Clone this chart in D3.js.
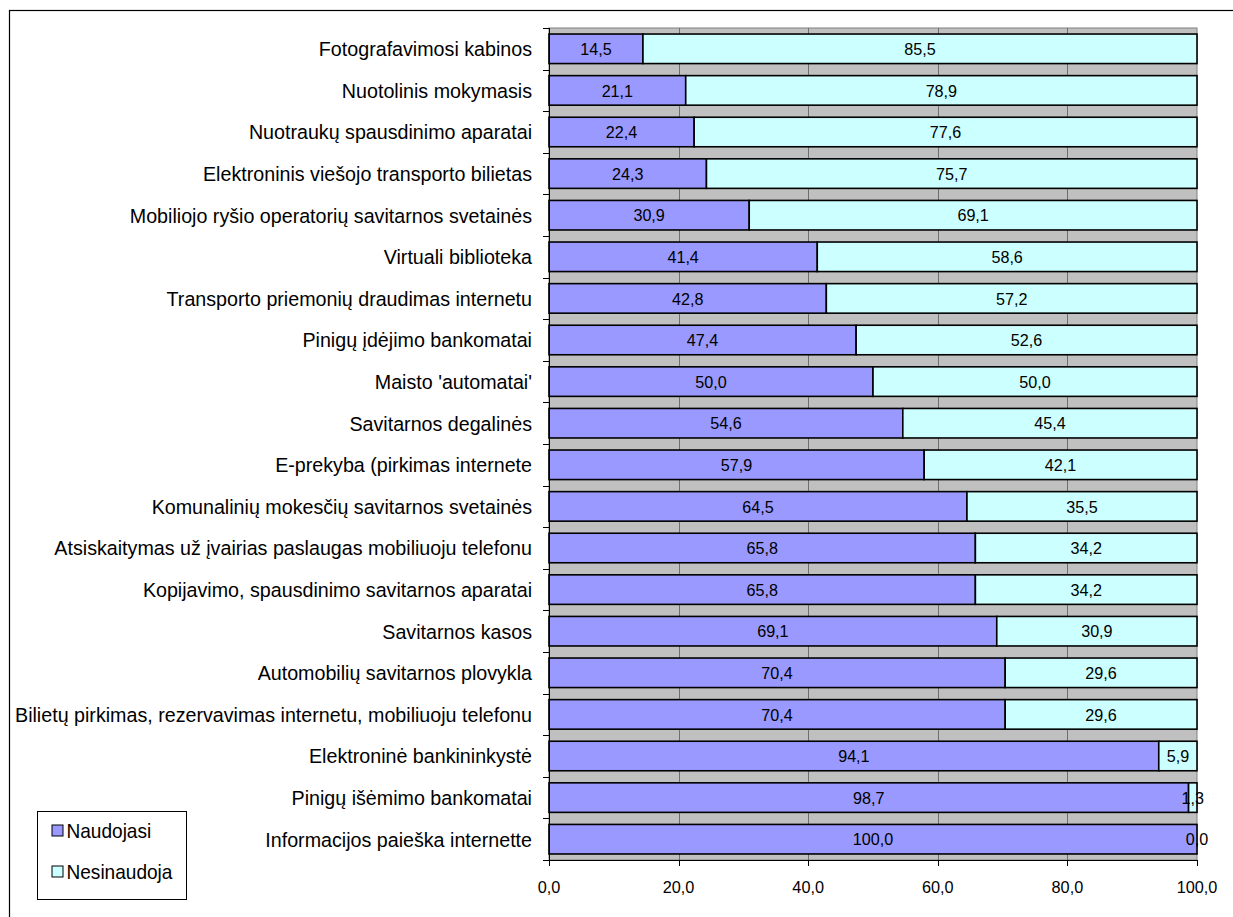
<!DOCTYPE html>
<html>
<head>
<meta charset="utf-8">
<script src="https://cdn.jsdelivr.net/npm/d3@7"></script>
<style>
  html, body { margin: 0; padding: 0; background: #fff; }
  svg { display: block; font-family: "Liberation Sans", Arial, sans-serif; }
</style>
</head>
<body>
<svg id="chart" width="1233" height="917"></svg>
<script>
// Self-service usage survey: share of respondents (%)
const categories = [
  "Fotografavimosi kabinos",
  "Nuotolinis mokymasis",
  "Nuotraukų spausdinimo aparatai",
  "Elektroninis viešojo transporto bilietas",
  "Mobiliojo ryšio operatorių savitarnos svetainės",
  "Virtuali biblioteka",
  "Transporto priemonių draudimas internetu",
  "Pinigų įdėjimo bankomatai",
  "Maisto 'automatai'",
  "Savitarnos degalinės",
  "E-prekyba (pirkimas internete",
  "Komunalinių mokesčių savitarnos svetainės",
  "Atsiskaitymas už įvairias paslaugas mobiliuoju telefonu",
  "Kopijavimo, spausdinimo savitarnos aparatai",
  "Savitarnos kasos",
  "Automobilių savitarnos plovykla",
  "Bilietų pirkimas, rezervavimas internetu, mobiliuoju telefonu",
  "Elektroninė bankininkystė",
  "Pinigų išėmimo bankomatai",
  "Informacijos paieška internette"
];
const naudojasi = [14.5, 21.1, 22.4, 24.3, 30.9, 41.4, 42.8, 47.4, 50.0, 54.6,
                   57.9, 64.5, 65.8, 65.8, 69.1, 70.4, 70.4, 94.1, 98.7, 100.0];
const nesinaudoja = [85.5, 78.9, 77.6, 75.7, 69.1, 58.6, 57.2, 52.6, 50.0, 45.4,
                     42.1, 35.5, 34.2, 34.2, 30.9, 29.6, 29.6, 5.9, 1.3, 0.0];
const seriesNames = ["Naudojasi", "Nesinaudoja"];
const xTicks = [0, 20, 40, 60, 80, 100];

const colors = { "Naudojasi": "#9999ff", "Nesinaudoja": "#ccffff" };
const fmt = v => v.toFixed(1).replace(".", ",");

const svg = d3.select("#chart");

// outer chart frame (runs past the right and bottom edges)
svg.append("rect")
  .attr("x", 9.5).attr("y", 10.5)
  .attr("width", 1240).attr("height", 920)
  .attr("fill", "none").attr("stroke", "#000").attr("stroke-width", 1.2);

const plot = { left: 549, right: 1197, top: 28, bottom: 860 };

const x = d3.scaleLinear().domain([0, 100]).range([plot.left, plot.right]);
const y = d3.scaleBand().domain(categories).range([plot.top, plot.bottom]).paddingInner(0.29).paddingOuter(0.145);
const yBand = d3.scaleBand().domain(categories).range([plot.top, plot.bottom]);

// slightly condensed text, as the chart's font renders
function condensed(sel, sx) {
  return sel.attr("transform", d => `scale(${sx},1)`);
}

// plot background
svg.append("rect")
  .attr("x", plot.left).attr("y", plot.top)
  .attr("width", plot.right - plot.left).attr("height", plot.bottom - plot.top)
  .attr("fill", "#c0c0c0").attr("stroke", "#808080").attr("stroke-width", 1);

// vertical gridlines
svg.append("g").selectAll("line")
  .data(xTicks.filter(t => t > 0 && t < 100))
  .join("line")
  .attr("x1", d => Math.round(x(d)) + 0.5).attr("x2", d => Math.round(x(d)) + 0.5)
  .attr("y1", plot.top).attr("y2", plot.bottom)
  .attr("stroke", "#6e6e6e").attr("stroke-width", 1);

// stacked bars
const rows = categories.map((c, i) => ({ cat: c, Naudojasi: naudojasi[i], Nesinaudoja: nesinaudoja[i] }));
const stacked = d3.stack().keys(seriesNames)(rows);

const barG = svg.append("g");
stacked.forEach(layer => {
  barG.append("g").selectAll("rect")
    .data(layer)
    .join("rect")
    .attr("x", d => x(d[0]))
    .attr("y", d => y(d.data.cat))
    .attr("width", d => x(d[1]) - x(d[0]))
    .attr("height", y.bandwidth())
    .attr("fill", colors[layer.key])
    .attr("stroke", "#000")
    .attr("stroke-width", 1.6);
});

// value labels centred in each segment
const labG = svg.append("g");
const vScale = 0.95;
stacked.forEach(layer => {
  labG.append("g").selectAll("g")
    .data(layer)
    .join("g")
    .attr("transform", d => `translate(${x((d[0] + d[1]) / 2)},${y(d.data.cat) + y.bandwidth() / 2}) scale(${vScale},1)`)
    .append("text")
    .attr("dy", "0.36em")
    .attr("text-anchor", "middle")
    .attr("font-size", 17)
    .attr("fill", "#000")
    .text(d => fmt(d.data[layer.key]));
});

// left axis
const yAxis = svg.append("g").attr("transform", `translate(${plot.left},0)`);
yAxis.append("line")
  .attr("x1", 0.5).attr("x2", 0.5).attr("y1", plot.top).attr("y2", plot.bottom)
  .attr("stroke", "#000");
const bounds = categories.map(c => yBand(c)).concat([plot.bottom]);
yAxis.selectAll("line.tick")
  .data(bounds)
  .join("line").attr("class", "tick")
  .attr("x1", -6).attr("x2", 0.5)
  .attr("y1", d => Math.round(d) + 0.5).attr("y2", d => Math.round(d) + 0.5)
  .attr("stroke", "#000");
const cScale = 0.96;
yAxis.selectAll("g.lab")
  .data(categories)
  .join("g").attr("class", "lab")
  .attr("transform", d => `translate(-17,${yBand(d) + yBand.bandwidth() / 2}) scale(${cScale},1)`)
  .append("text")
  .attr("dy", "0.36em")
  .attr("text-anchor", "end")
  .attr("font-size", 20.5)
  .text(d => d);

// bottom axis
const xAxis = svg.append("g").attr("transform", `translate(0,${plot.bottom})`);
xAxis.append("line")
  .attr("x1", plot.left).attr("x2", plot.right).attr("y1", 0.5).attr("y2", 0.5)
  .attr("stroke", "#000");
xAxis.selectAll("line.tick")
  .data(xTicks)
  .join("line").attr("class", "tick")
  .attr("x1", d => Math.round(x(d)) + 0.5).attr("x2", d => Math.round(x(d)) + 0.5)
  .attr("y1", 0).attr("y2", 6)
  .attr("stroke", "#000");
xAxis.selectAll("text")
  .data(xTicks)
  .join("text")
  .attr("x", d => x(d))
  .attr("y", 27.5)
  .attr("dy", "0.36em")
  .attr("text-anchor", "middle")
  .attr("font-size", 16.3)
  .text(d => fmt(d));

// legend
const legend = svg.append("g").attr("transform", "translate(37.5,811.5)");
legend.append("rect")
  .attr("width", 149).attr("height", 88)
  .attr("fill", "#fff").attr("stroke", "#000").attr("stroke-width", 1);
seriesNames.forEach((s, i) => {
  const cy = 19 + i * 41;
  legend.append("rect")
    .attr("x", 14.5).attr("y", cy - 5.5)
    .attr("width", 11).attr("height", 11)
    .attr("fill", colors[s]).attr("stroke", "#000").attr("stroke-width", 1);
  legend.append("g")
    .attr("transform", `translate(29,${cy}) scale(0.93,1)`)
    .append("text")
    .attr("dy", "0.36em")
    .attr("font-size", 20.5)
    .text(s);
});
</script>
</body>
</html>
